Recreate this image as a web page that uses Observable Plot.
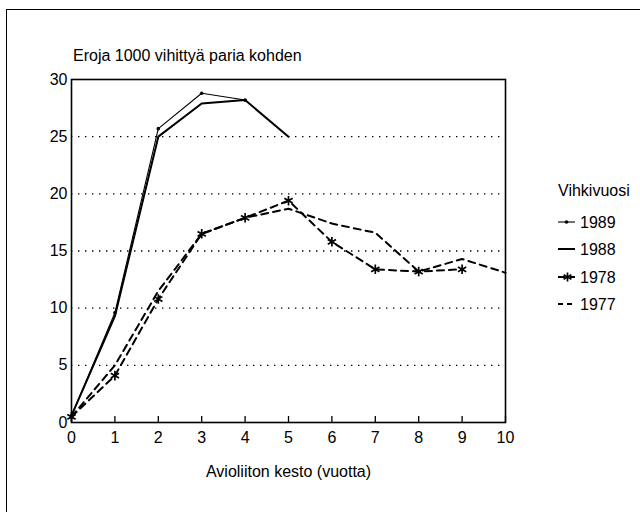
<!DOCTYPE html>
<html>
<head>
<meta charset="utf-8">
<script src="https://cdn.jsdelivr.net/npm/d3@7"></script>
<script src="https://cdn.jsdelivr.net/npm/@observablehq/plot@0.6"></script>
<style>
  body { margin: 0; background: #fff; font-family: "Liberation Sans", Arial, sans-serif; color: #000; }
  #wrap { position: relative; width: 640px; height: 512px; overflow: hidden; }
  #border { position: absolute; left: 6px; top: 9px; width: 660px; height: 520px;
            border-left: 1.5px solid #000; border-top: 1.5px solid #000; }
  #chart { position: absolute; left: 0; top: 0; }
  #title { position: absolute; left: 73px; top: 47px; font-size: 16px; line-height: 18px; white-space: nowrap; }
  #legend { position: absolute; left: 0; top: 0; pointer-events: none; }
</style>
</head>
<body>
<div id="wrap">
  <div id="border"></div>
  <div id="chart"></div>
  <div id="title">Eroja 1000 vihittyä paria kohden</div>
  <svg id="legend" width="640" height="512"></svg>
</div>
<script>
// ---- data ----
const years = [0, 1, 2, 3, 4, 5, 6, 7, 8, 9, 10];
const v1989 = [0.6, 9.6, 25.7, 28.8, 28.2];
const v1988 = [0.6, 9.3, 25.0, 27.9, 28.2, 25.0];
const v1978 = [0.5, 4.1, 10.8, 16.5, 17.9, 19.4, 15.8, 13.4, 13.2, 13.4];
const v1977 = [0.5, 5.0, 11.5, 16.5, 17.9, 18.7, 17.4, 16.6, 13.2, 14.3, 13.1];
const seriesNames = ["1989", "1988", "1978", "1977"];
const xTicks = [0, 1, 2, 3, 4, 5, 6, 7, 8, 9, 10];
const yTicks = [0, 5, 10, 15, 20, 25, 30];
const gridValues = [5, 10, 15, 20, 25];
const titleText = "Eroja 1000 vihittyä paria kohden";
const xLabel = "Avioliiton kesto (vuotta)";
const legendTitle = "Vihkivuosi";

const toRows = (vals, s) => vals.map((v, i) => ({ year: years[i], value: v, series: s }));
const r1989 = toRows(v1989, "1989");
const r1988 = toRows(v1988, "1988");
const r1978 = toRows(v1978, "1978");
const r1977 = toRows(v1977, "1977");

const font = "Liberation Sans, Arial, sans-serif";

const chart = Plot.plot({
  width: 640,
  height: 512,
  marginLeft: 71,
  marginRight: 135,
  marginTop: 79,
  marginBottom: 90,
  style: { fontSize: "16px", fontFamily: font, color: "#000", background: "transparent", overflow: "visible" },
  x: { domain: [0, 10], label: null },
  y: { domain: [0, 30], label: null },
  marks: [
    Plot.ruleY(gridValues, { stroke: "#000", strokeWidth: 1.4, strokeDasharray: "1.4,5.6" }),
    Plot.line(r1977, { x: "year", y: "value", stroke: "#000", strokeWidth: 2, strokeDasharray: "7,5" }),
    Plot.line(r1978, { x: "year", y: "value", stroke: "#000", strokeWidth: 2, strokeDasharray: "7,5" }),
    Plot.dot(r1978, { x: "year", y: "value", symbol: "asterisk", r: 4.5, stroke: "#000", strokeWidth: 1.7 }),
    Plot.line(r1988, { x: "year", y: "value", stroke: "#000", strokeWidth: 2 }),
    Plot.line(r1989, { x: "year", y: "value", stroke: "#000", strokeWidth: 1.1 }),
    Plot.dot(r1989, { x: "year", y: "value", r: 1.8, fill: "#000" }),
    Plot.frame({ stroke: "#000", strokeWidth: 1.6 }),
    // inward tick marks
    Plot.axisX(xTicks, { tickSize: 6, dy: -6, tickFormat: () => "", strokeWidth: 1.3, label: null }),
    // tick labels and axis title
    Plot.axisX(xTicks, { tickSize: 0, tickPadding: 9, tickFormat: d => String(d),
                 label: xLabel, labelAnchor: "center", labelOffset: 54, labelArrow: "none" }),
    Plot.axisY(yTicks, { tickSize: 0, tickPadding: 4, tickFormat: d => String(d), label: null })
  ]
});
document.getElementById("chart").appendChild(chart);
document.getElementById("title").textContent = titleText;

// ---- legend ----
const lg = d3.select("#legend");
const lx0 = 558, lx1 = 575, ltx = 580;
lg.append("text").attr("x", lx0).attr("y", 196).attr("font-family", font).attr("font-size", 16).text(legendTitle);
const rowY = [222, 249, 277, 304];
seriesNames.forEach((name, i) => {
  const y = rowY[i];
  const g = lg.append("g");
  if (name === "1989") {
    g.append("line").attr("x1", lx0).attr("x2", lx1).attr("y1", y).attr("y2", y).attr("stroke", "#000").attr("stroke-width", 1.1);
    g.append("circle").attr("cx", (lx0 + lx1) / 2).attr("cy", y).attr("r", 1.8).attr("fill", "#000");
  } else if (name === "1988") {
    g.append("line").attr("x1", lx0).attr("x2", lx1).attr("y1", y).attr("y2", y).attr("stroke", "#000").attr("stroke-width", 2);
  } else if (name === "1978") {
    g.append("line").attr("x1", lx0).attr("x2", lx1).attr("y1", y).attr("y2", y).attr("stroke", "#000").attr("stroke-width", 2).attr("stroke-dasharray", "7,5");
    const cx = (lx0 + lx1) / 2 + 1, r = 4.5;
    [0, 60, 120].forEach(a => {
      const rad = a * Math.PI / 180;
      g.append("line").attr("x1", cx - r * Math.sin(rad)).attr("y1", y - r * Math.cos(rad))
        .attr("x2", cx + r * Math.sin(rad)).attr("y2", y + r * Math.cos(rad))
        .attr("stroke", "#000").attr("stroke-width", 1.7);
    });
  } else {
    g.append("line").attr("x1", lx0).attr("x2", lx1 + 1).attr("y1", y).attr("y2", y).attr("stroke", "#000").attr("stroke-width", 2).attr("stroke-dasharray", "5,4");
  }
  g.append("text").attr("x", ltx).attr("y", y).attr("dy", "0.36em").attr("font-family", font).attr("font-size", 16).text(name);
});
</script>
</body>
</html>
